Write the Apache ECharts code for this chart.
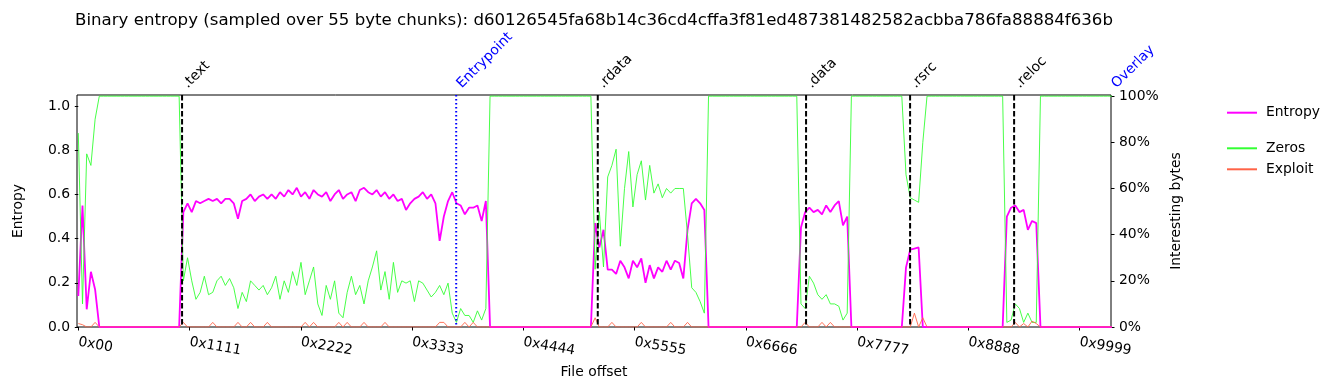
<!DOCTYPE html>
<html>
<head>
<meta charset="utf-8">
<script src="https://cdn.jsdelivr.net/npm/echarts@6/dist/echarts.min.js"></script>
<style>
html,body{margin:0;padding:0;background:#fff;}
#chart{width:1335px;height:390px;}
</style>
</head>
<body>
<div id="chart"></div>
<script>
// ---------------- data ----------------
const CHUNK = 55;              // bytes per entropy chunk
const SAMPLE_STEP = 165;       // one plotted sample every 3 chunks (bytes)
const titleText = 'Binary entropy (sampled over 55 byte chunks): d60126545fa68b14c36cd4cffa3f81ed487381482582acbba786fa88884f636b';

// entropy (0..1), sample i at offset i*SAMPLE_STEP
const entropy = [
0.14,0.55,0.08,0.25,0.17,0,0,0,0,0,
0,0,0,0,0,0,0,0,0,0,
0,0,0,0,0,0.52,0.56,0.52,0.57,0.56,
0.57,0.58,0.57,0.58,0.56,0.58,0.58,0.56,0.49,0.57,
0.58,0.60,0.57,0.59,0.60,0.58,0.60,0.58,0.61,0.59,
0.62,0.60,0.63,0.59,0.61,0.58,0.62,0.60,0.59,0.61,
0.57,0.60,0.62,0.58,0.60,0.61,0.57,0.62,0.63,0.61,
0.60,0.62,0.59,0.61,0.58,0.60,0.57,0.58,0.53,0.56,
0.58,0.59,0.61,0.58,0.60,0.56,0.39,0.50,0.57,0.61,
0.56,0.55,0.51,0.54,0.54,0.55,0.48,0.57,0,0,
0,0,0,0,0,0,0,0,0,0,
0,0,0,0,0,0,0,0,0,0,
0,0,0,0.47,0.36,0.44,0.26,0.26,0.24,0.30,
0.27,0.22,0.30,0.27,0.31,0.20,0.28,0.22,0.27,0.25,
0.30,0.26,0.30,0.29,0.22,0.44,0.56,0.58,0.56,0.53,
0,0,0,0,0,0,0,0,0,0,
0,0,0,0,0,0,0,0,0,0,
0,0,0.45,0.52,0.54,0.52,0.53,0.51,0.55,0.52,
0.55,0.57,0.46,0.50,0,0,0,0,0,0,
0,0,0,0,0,0,0,0.27,0.35,0.355,
0.36,0,0,0,0,0,0,0,0,0,
0,0,0,0,0,0,0,0,0,0,
0,0.50,0.54,0.55,0.52,0.53,0.44,0.48,0.47,0,
0,0,0,0,0,0,0,0,0,0,
0,0,0,0,0,0,0
];

// zero bytes (%), same sampling
const zeros = [
84,10,75,70,90,100,100,100,100,100,
100,100,100,100,100,100,100,100,100,100,
100,100,100,100,100,20,30,20,12,15,
22,14,15,20,22,18,21,17,8,15,
11,20,18,16,18,14,17,22,12,20,
15,24,18,28,14,20,26,10,5,18,
12,20,6,4,15,22,14,18,10,20,
26,33,16,24,12,28,15,20,19,20,
11,20,19,16,13,15,18,14,19,6,
2,8,5,5,2,7,3,8,100,100,
100,100,100,100,100,100,100,100,100,100,
100,100,100,100,100,100,100,100,100,100,
100,100,100,25,50,26,65,70,77,35,
60,76,52,66,72,55,70,58,62,56,
60,58,60,60,60,40,17,15,11,6,
100,100,100,100,100,100,100,100,100,100,
100,100,100,100,100,100,100,100,100,100,
100,100,10,8,22,19,14,12,14,10,
10,9,3,6,100,100,100,100,100,100,
100,100,100,100,100,100,100,66,56,55,
54,80,100,100,100,100,100,100,100,100,
100,100,100,100,100,100,100,100,100,100,
100,2,3,10,8,2,6,2,2,100,
100,100,100,100,100,100,100,100,100,100,
100,100,100,100,100,100,100
];

// exploit-like bytes (%), same sampling
const exploit = [
1.5,1,0,0,2,0,0,0,0,0,
0,0,0,0,0,0,0,0,0,0,
0,0,0,0,0,2,0,0,0,0,
0,0,2,0,0,0,0,0,2,0,
0,2,0,0,0,2,0,0,0,0,
0,0,0,0,2,0,2,0,0,0,
0,0,2,0,2,0,0,0,2,0,
0,0,0,2,0,0,0,0,0,0,
0,0,0,0,0,0,2,2,0,0,
0,0,2,0,2,0,0,0,0,0,
0,0,0,0,0,0,0,0,0,0,
0,0,0,0,0,0,0,0,0,0,
0,0,0,4,0,0,0,2,0,0,
0,0,0,0,2,0,0,0,0,0,
0,2,0,0,0,2,0,0,0,0,
0,0,0,0,0,0,0,0,0,0,
0,0,0,0,0,0,0,0,0,0,
0,0,0,2,0,0,0,2,0,2,
0,0,0,0,0,0,0,0,0,0,
0,0,0,0,0,0,0,0,0,6,
0,4,0,0,0,0,0,0,0,0,
0,0,0,0,0,0,0,0,0,0,
0,0,0,2,0,1.5,0,2.5,1.5,0,
0,0,0,0,0,0,0,0,0,0,
0,0,0,0,0,0,0
];

// sections (file offsets in bytes)
const sectionNames   = ['.text', 'Entrypoint', '.rdata', '.data', '.rsrc', '.reloc', 'Overlay'];
const sectionOffsets = [4075, 14840, 20400, 28580, 32665, 36750, 40555];
const sectionKinds   = ['section', 'entry', 'section', 'section', 'section', 'section', 'overlay'];

// x axis
const xMin = -51;
const xMax = 40555;
const xTickValues = [0, 4369, 8738, 13107, 17476, 21845, 26214, 30583, 34952, 39321];
const xTickLabels = ['0x00', '0x1111', '0x2222', '0x3333', '0x4444', '0x5555', '0x6666', '0x7777', '0x8888', '0x9999'];
const yLeftTicks = [0, 0.2, 0.4, 0.6, 0.8, 1.0];
const yRightTicks = [0, 20, 40, 60, 80, 100];

// ---------------- chart ----------------
const FONT = 'DejaVu Sans';
const FS = 13.9;
const toPairs = arr => arr.map((v, i) => [i * SAMPLE_STEP, v]);

const chart = echarts.init(document.getElementById('chart'), null, {renderer: 'canvas'});

const option = {
  animation: false,
  backgroundColor: '#fff',
  textStyle: {fontFamily: FONT},
  title: {
    text: titleText,
    left: 589,
    textAlign: 'center',
    top: 7,
    textStyle: {fontFamily: FONT, fontSize: 16.62, fontWeight: 'normal', color: '#000'}
  },
  legend: [
    {
      data: ['Entropy'],
      orient: 'vertical',
      left: 1226, top: 105.7,
      padding: 0,
      itemWidth: 30, itemHeight: 14, itemGap: 7,
      itemStyle: {opacity: 0},
      textStyle: {fontFamily: FONT, fontSize: FS, color: '#000', padding: [0, 0, 0, 4]}
    },
    {
      data: ['Zeros', 'Exploit'],
      orient: 'vertical',
      left: 1226, top: 141.3,
      padding: 0,
      itemWidth: 30, itemHeight: 14, itemGap: 7,
      itemStyle: {opacity: 0},
      textStyle: {fontFamily: FONT, fontSize: FS, color: '#000', padding: [0, 0, 0, 4]}
    }
  ],
  grid: {
    left: 77, right: 224, top: 95, bottom: 63,
    show: true, borderColor: '#000', borderWidth: 1, backgroundColor: 'transparent'
  },
  xAxis: {
    type: 'value',
    min: xMin, max: xMax,
    name: 'File offset',
    nameLocation: 'middle',
    nameGap: 38,
    nameTextStyle: {fontFamily: FONT, fontSize: FS, color: '#000'},
    axisLine: {show: false},
    splitLine: {show: false},
    axisTick: {show: true, customValues: xTickValues, length: 3.5, lineStyle: {color: '#000', width: 1}},
    axisLabel: {
      customValues: xTickValues,
      rotate: -10,
      margin: 15,
      align: 'left',
      fontFamily: FONT, fontSize: FS, color: '#000',
      formatter: v => xTickLabels[xTickValues.indexOf(v)]
    }
  },
  yAxis: [
    {
      type: 'value',
      min: 0, max: 1.05,
      name: 'Entropy',
      nameLocation: 'middle',
      nameRotate: 90,
      nameGap: 52,
      nameTextStyle: {fontFamily: FONT, fontSize: FS, color: '#000'},
      axisLine: {show: false},
      splitLine: {show: false},
      axisTick: {show: true, customValues: yLeftTicks, length: 3.5, lineStyle: {color: '#000'}},
      axisLabel: {
        customValues: yLeftTicks, margin: 7,
        fontFamily: FONT, fontSize: FS, color: '#000',
        formatter: v => v.toFixed(1)
      }
    },
    {
      type: 'value',
      position: 'right',
      min: 0, max: 100.5,
      name: 'Interesting bytes',
      nameLocation: 'middle',
      nameRotate: 90,
      nameGap: 50,
      nameTextStyle: {fontFamily: FONT, fontSize: FS, color: '#000'},
      axisLine: {show: false},
      splitLine: {show: false},
      axisTick: {show: true, customValues: yRightTicks, length: 3.5, lineStyle: {color: '#000'}},
      axisLabel: {
        customValues: yRightTicks, margin: 8,
        fontFamily: FONT, fontSize: FS, color: '#000',
        formatter: v => v + '%'
      }
    }
  ],
  series: [
    {
      name: 'Entropy', type: 'line', yAxisIndex: 0,
      data: toPairs(entropy),
      symbol: 'none', z: 2,
      lineStyle: {color: '#ff00ff', width: 1.8},
      itemStyle: {color: '#ff00ff'}
    },
    {
      name: 'Zeros', type: 'line', yAxisIndex: 1,
      data: toPairs(zeros),
      symbol: 'none', z: 3,
      lineStyle: {color: '#33ff33', width: 0.9},
      itemStyle: {color: '#33ff33'}
    },
    {
      name: 'Exploit', type: 'line', yAxisIndex: 1,
      data: toPairs(exploit),
      symbol: 'none', z: 3,
      lineStyle: {color: '#ff6347', width: 0.9},
      itemStyle: {color: '#ff6347'}
    },
    {
      name: 'sections', type: 'custom', yAxisIndex: 0,
      data: sectionOffsets.map(o => [o, 0]),
      encode: {x: 0, y: 1},
      clip: false, z: 5, silent: true,
      renderItem: function (params, api) {
        const i = params.dataIndex;
        const kind = sectionKinds[i];
        const x = api.coord([api.value(0), 0])[0];
        const cs = params.coordSys;
        const color = kind === 'section' ? '#000000' : '#0000ff';
        const children = [];
        if (kind !== 'overlay') {
          children.push({
            type: 'line',
            shape: {x1: x, y1: cs.y, x2: x, y2: cs.y + cs.height},
            style: {stroke: color, lineWidth: 2, lineDash: kind === 'entry' ? [1.5, 2.5] : [5.5, 2.5]}
          });
        }
        children.push({
          type: 'text',
          x: x + 8, y: cs.y - 4,
          rotation: Math.PI / 4,
          style: {
            text: sectionNames[i], fill: color,
            fontFamily: FONT, fontSize: FS,
            align: 'left', verticalAlign: 'bottom'
          }
        });
        return {type: 'group', children: children};
      }
    }
  ]
};
chart.setOption(option);
</script>
</body>
</html>
